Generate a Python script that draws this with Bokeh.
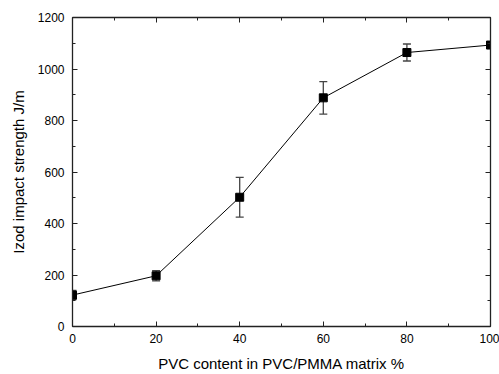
from bokeh.plotting import figure
from bokeh.models import (Range1d, LinearAxis, SingleIntervalTicker, Whisker,
                          TeeHead, ColumnDataSource, CustomJSTickFormatter)
from bokeh.embed import file_html
from bokeh.resources import INLINE

pvc_content = [0, 20, 40, 60, 80, 100]
izod_strength = [122, 197, 502, 888, 1064, 1093]
err = [18, 20, 77, 63, 33, 0]

lower = [v - e for v, e in zip(izod_strength, err)]
upper = [v + e for v, e in zip(izod_strength, err)]
src = ColumnDataSource(dict(x=pvc_content, y=izod_strength, lo=lower, up=upper))

p = figure(width=499, height=374, output_backend="svg", toolbar_location=None,
           x_range=Range1d(0, 100), y_range=Range1d(0, 1200),
           min_border_left=72, min_border_right=9, min_border_top=17,
           min_border_bottom=47, x_axis_type=None, y_axis_type=None)
p.grid.visible = False
p.outline_line_color = None
p.background_fill_color = "white"
p.border_fill_color = "white"

FONT = "Liberation Sans"

def style(ax, labels=True):
    ax.axis_line_color = "#222222"
    ax.axis_line_width = 1.3
    ax.major_tick_line_color = "#222222"
    ax.minor_tick_line_color = "#222222"
    ax.major_tick_in = 5
    ax.major_tick_out = 0
    ax.minor_tick_in = 3
    ax.minor_tick_out = 0
    ax.major_label_text_font = FONT
    ax.major_label_text_font_size = "12px"
    ax.major_label_text_color = "black"
    ax.axis_label_text_font = FONT
    ax.axis_label_text_font_size = "15px"
    ax.axis_label_text_font_style = "normal"
    ax.axis_label_text_color = "black"
    if not labels:
        ax.formatter = CustomJSTickFormatter(code="return '';")
        ax.major_label_standoff = 0

xb = LinearAxis(ticker=SingleIntervalTicker(interval=20, num_minor_ticks=2),
                axis_label="PVC content in PVC/PMMA matrix %")
style(xb)
xb.major_label_standoff = 7
xb.axis_label_standoff = 9
p.add_layout(xb, "below")

yl = LinearAxis(ticker=SingleIntervalTicker(interval=200, num_minor_ticks=2),
                axis_label="Izod impact strength J/m")
style(yl)
yl.major_label_standoff = 8
yl.axis_label_standoff = 8
p.add_layout(yl, "left")

xt = LinearAxis(ticker=SingleIntervalTicker(interval=20, num_minor_ticks=2))
style(xt, labels=False)
p.add_layout(xt, "above")

yr = LinearAxis(ticker=SingleIntervalTicker(interval=200, num_minor_ticks=2))
style(yr, labels=False)
p.add_layout(yr, "right")

p.line("x", "y", source=src, line_color="black", line_width=1)
w = Whisker(base="x", lower="lo", upper="up", source=src, dimension="height",
            line_color="#444444", line_width=1.3,
            upper_head=TeeHead(size=8, line_color="#444444", line_width=1.3),
            lower_head=TeeHead(size=8, line_color="#444444", line_width=1.3))
p.add_layout(w)
p.scatter("x", "y", source=src, marker="square", size=8, fill_color="black",
          line_color="black")

open("out.html", "w").write(file_html(p, INLINE))
